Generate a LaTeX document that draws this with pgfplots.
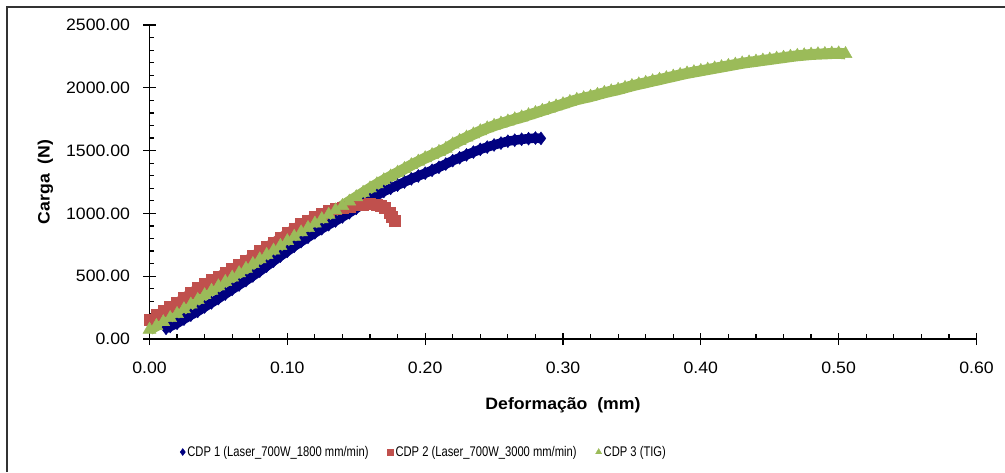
\documentclass[border=0pt]{standalone}
\usepackage{fontspec}
\setmainfont{Liberation Sans}[FakeStretch=1.07]
\newfontfamily\legfont{Liberation Sans}[FakeStretch=0.8]
\usepackage{pgfplots}
\usepackage{pgfplotstable}
\pgfplotsset{compat=1.18}
\definecolor{cnavy}{RGB}{0,0,128}
\definecolor{cred}{RGB}{192,80,77}
\definecolor{cgreen}{RGB}{155,187,89}
\pgfplotstableread{
x y
0.012 85
0.015 100
0.020 125
0.025 158
0.030 190
0.035 220
0.040 255
0.045 288
0.050 322
0.055 358
0.060 395
0.065 430
0.070 465
0.075 502
0.080 540
0.085 580
0.090 620
0.095 660
0.100 698
0.105 738
0.110 775
0.115 810
0.120 845
0.125 878
0.130 910
0.135 940
0.140 972
0.145 1005
0.150 1040
0.155 1075
0.160 1110
0.165 1143
0.170 1175
0.175 1200
0.180 1225
0.185 1250
0.190 1275
0.195 1298
0.200 1320
0.205 1343
0.210 1367
0.215 1393
0.220 1420
0.225 1443
0.230 1466
0.235 1488
0.240 1510
0.245 1528
0.250 1545
0.255 1560
0.260 1575
0.265 1583
0.270 1590
0.275 1595
0.280 1600
0.284 1597
}\cdpone
\pgfplotstableread{
x y
0.000 150
0.005 190
0.010 225
0.015 258
0.020 290
0.025 330
0.030 370
0.035 405
0.040 440
0.045 470
0.050 500
0.055 530
0.060 560
0.065 592
0.070 625
0.075 662
0.080 700
0.085 735
0.090 770
0.095 808
0.100 845
0.105 880
0.110 915
0.115 945
0.120 975
0.125 1000
0.130 1020
0.135 1035
0.140 1047
0.145 1057
0.150 1066
0.155 1073
0.160 1078
0.165 1072
0.168 1062
0.171 1045
0.174 1005
0.176 970
0.178 938
}\cdptwo
\pgfplotstableread{
x y
0.000 75
0.005 105
0.010 135
0.015 168
0.020 200
0.025 238
0.030 275
0.035 312
0.040 350
0.045 385
0.050 420
0.055 455
0.060 490
0.065 525
0.070 560
0.075 598
0.080 635
0.085 670
0.090 705
0.095 742
0.100 780
0.105 815
0.110 850
0.115 885
0.120 920
0.125 955
0.130 990
0.135 1025
0.140 1060
0.145 1095
0.150 1130
0.155 1165
0.160 1200
0.165 1233
0.170 1265
0.175 1295
0.180 1325
0.185 1355
0.190 1385
0.195 1413
0.200 1440
0.205 1465
0.210 1490
0.215 1515
0.220 1550
0.225 1578
0.230 1605
0.235 1630
0.240 1655
0.245 1678
0.250 1698
0.255 1716
0.260 1733
0.265 1750
0.270 1765
0.275 1783
0.280 1800
0.285 1818
0.290 1835
0.295 1853
0.300 1870
0.305 1888
0.310 1905
0.315 1918
0.320 1930
0.325 1945
0.330 1960
0.335 1973
0.340 1985
0.345 2000
0.350 2015
0.355 2028
0.360 2040
0.365 2053
0.370 2065
0.375 2078
0.380 2090
0.385 2103
0.390 2115
0.395 2125
0.400 2135
0.405 2145
0.410 2155
0.415 2165
0.420 2175
0.425 2185
0.430 2195
0.435 2203
0.440 2210
0.445 2218
0.450 2225
0.455 2233
0.460 2240
0.465 2248
0.470 2255
0.475 2260
0.480 2265
0.485 2268
0.490 2270
0.495 2273
0.500 2275
0.505 2270
}\cdpthree
\begin{document}
\begin{tikzpicture}
\useasboundingbox (-149.5pt,-133pt) rectangle (855.5pt,339pt);
\draw[line width=2pt,black!80] (-142.5pt,-133pt) -- (-142.5pt,332pt) -- (855.5pt,332pt);
\begin{axis}[
  at={(0pt,0pt)}, anchor=south west,
  scale only axis, width=827pt, height=314pt,
  xmin=0, xmax=0.6, ymin=0, ymax=2500,
  xtick={0,0.1,0.2,0.3,0.4,0.5,0.6},
  ytick={0,500,1000,1500,2000,2500},
  minor x tick num=4, minor y tick num=4,
  axis lines=left,
  axis line style={-, line width=1.6pt, black},
  tick align=inside,
  major tick length=12.5pt, minor tick length=5pt,
  every tick/.style={black, line width=1.2pt},
  every major x tick/.append style={yshift=-6pt},
  every major y tick/.append style={xshift=-6pt},
  scaled ticks=false,
  /pgf/number format/assume math mode=true,
  tick label style={font=\fontsize{16.5}{19}\selectfont},
  x tick label style={yshift=-19pt, /pgf/number format/.cd, fixed, fixed zerofill, precision=2, 1000 sep={}},
  y tick label style={xshift=-16pt, /pgf/number format/.cd, fixed, fixed zerofill, precision=2, 1000 sep={}},
  xlabel={\textbf{Deformação\ \ (mm)}},
  ylabel={\textbf{Carga\ \ (N)}},
  label style={font=\fontsize{16.5}{19}\selectfont},
  x label style={at={(axis description cs:0.5,-0.212)}, anchor=center},
  y label style={at={(axis description cs:-0.126,0.5)}, anchor=center},
  clip=false,
  legend style={at={(0.0368,-0.36)}, anchor=west, draw=none, fill=none,
    legend columns=3, font=\legfont\fontsize{14}{17}\selectfont,
    /tikz/every even column/.append style={column sep=17pt},
    legend cell align=left, inner sep=0pt},
  legend image code/.code={\draw[#1] plot coordinates {(4pt,0pt)};},
]
\addplot[cnavy, line width=9.5pt, line join=round, forget plot] table {\cdpone};
\addplot[only marks, mark=diamond*, mark size=6.5pt, color=cnavy, forget plot] table {\cdpone};
\addplot[cred, line width=9pt, line join=round, forget plot] table {\cdptwo};
\addplot[only marks, mark=square*, mark size=5.5pt, color=cred, forget plot] table {\cdptwo};
\addplot[cgreen, line width=11pt, line join=round, forget plot] table {\cdpthree};
\addplot[only marks, mark=triangle*, mark size=7.5pt, color=cgreen, forget plot] table {\cdpthree};
\addlegendimage{only marks, mark=diamond*, mark size=3.5pt, color=cnavy}
\addlegendentry{CDP 1 (Laser\_700W\_1800 mm/min)}
\addlegendimage{only marks, mark=square*, mark size=3pt, color=cred}
\addlegendentry{CDP 2 (Laser\_700W\_3000 mm/min)}
\addlegendimage{only marks, mark=triangle*, mark size=3.5pt, color=cgreen}
\addlegendentry{CDP 3 (TIG)}
\end{axis}
\end{tikzpicture}
\end{document}
